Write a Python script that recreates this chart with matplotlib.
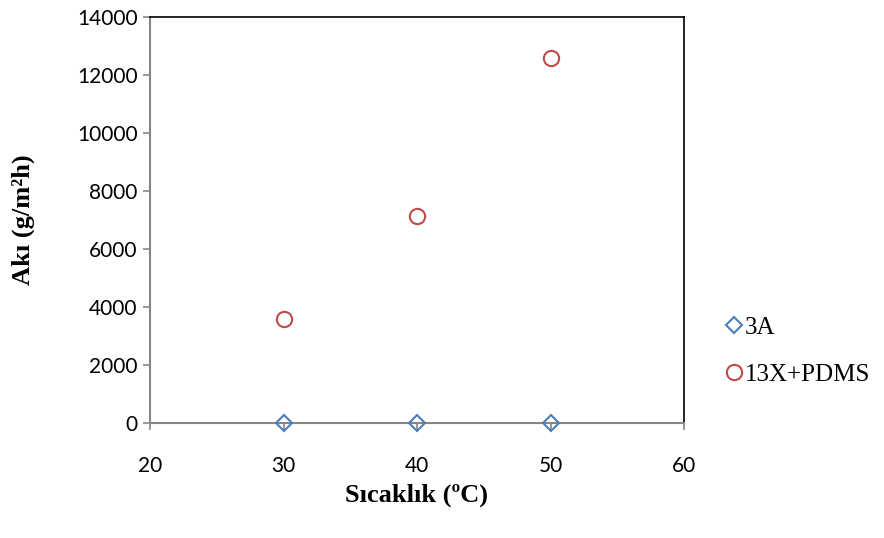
import matplotlib.pyplot as plt

# Data
temps = [30, 40, 50]
flux_3a = [5, 5, 5]
flux_13x = [3590, 7130, 12590]
x_ticks = [20, 30, 40, 50, 60]
y_ticks = list(range(0, 14001, 2000))

fig = plt.figure(figsize=(8.84, 5.38), dpi=100)
ax = fig.add_axes([150 / 884, 1 - 423 / 538, 534 / 884, 406 / 538])

gray = "#868686"
ax.plot(temps, flux_3a, linestyle="none", marker="D", markersize=8,
        markerfacecolor="none", markeredgecolor="#4a7ebb", markeredgewidth=1.5,
        label="3A", clip_on=False, zorder=5)
ax.plot(temps, flux_13x, linestyle="none", marker="o", markersize=11,
        markerfacecolor="none", markeredgecolor="#be4b48", markeredgewidth=1.5,
        label="13X+PDMS", clip_on=False, zorder=5)

ax.set_xlim(20, 60)
ax.set_ylim(0, 14000)
ax.set_xticks(x_ticks)
ax.set_yticks(y_ticks)

# Spines: left/bottom gray, top/right black
ax.spines["left"].set_color(gray)
ax.spines["bottom"].set_color(gray)
ax.spines["left"].set_linewidth(1.5)
ax.spines["bottom"].set_linewidth(1.5)
ax.spines["top"].set_color("black")
ax.spines["right"].set_color("black")
ax.spines["top"].set_linewidth(1.2)
ax.spines["right"].set_linewidth(1.2)

tick_font = "Lato"
ax.tick_params(axis="both", direction="out", length=5, width=1.2, color=gray,
               labelsize=15)
ax.tick_params(axis="x", pad=19)
ax.tick_params(axis="y", pad=4)
for lab in ax.get_xticklabels() + ax.get_yticklabels():
    lab.set_fontfamily(tick_font)

ax.set_xlabel("Sıcaklık (ºC)", fontfamily="Liberation Serif", fontweight="bold",
              fontsize=19, labelpad=5)
ax.set_ylabel("Akı (g/m²h)", fontfamily="Liberation Serif", fontweight="bold",
              fontsize=19, labelpad=30)

ax.legend(loc="center left", bbox_to_anchor=(704 / 884, 1 - 351 / 538),
          bbox_transform=fig.transFigure, frameon=False, handlelength=0.6,
          handletextpad=0.15, labelspacing=1.0,
          prop={"family": "Liberation Serif", "size": 18})

fig.savefig("out.png", dpi=100)
